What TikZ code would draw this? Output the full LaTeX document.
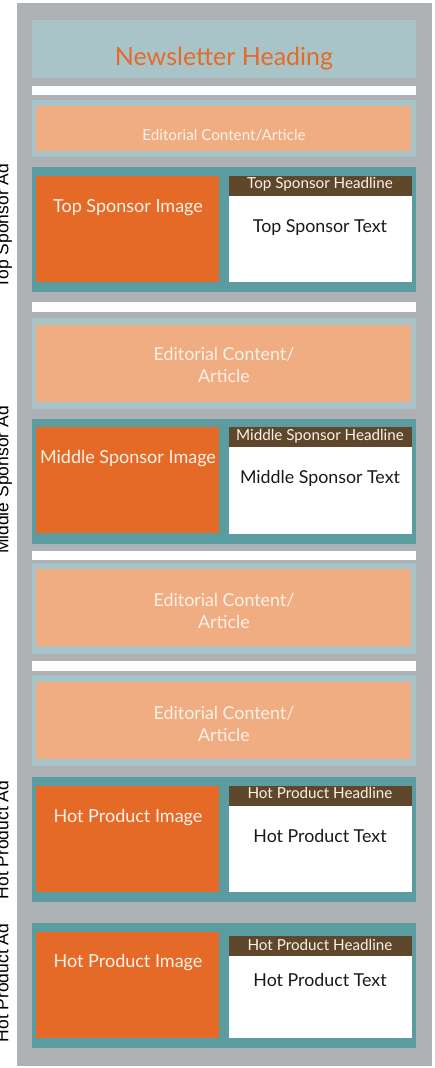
\documentclass[tikz,border=0pt]{standalone}
\usepackage{fontspec}
\setmainfont{Lato}
\newfontfamily\sidefont{Liberation Sans}
\definecolor{panelgray}{HTML}{AEB1B4}
\definecolor{paleblue}{HTML}{A9C4C8}
\definecolor{paleorange}{HTML}{F0AD82}
\definecolor{adteal}{HTML}{5B9CA1}
\definecolor{imgorange}{HTML}{E66A27}
\definecolor{headbrown}{HTML}{5E472B}
\definecolor{softwhite}{HTML}{FDF1E8}
\tikzset{
  box/.style={inner sep=0pt, outer sep=0pt, anchor=north west},
  sidelabel/.style={font=\sidefont\fontsize{17.5}{20}\selectfont, rotate=90, anchor=base},
  edtext/.style={font=\fontsize{17.8}{21.7}\selectfont, text=softwhite, align=center, anchor=base},
  imgtext/.style={font=\fontsize{18}{21}\selectfont, text=softwhite, anchor=base},
  headtext/.style={font=\fontsize{15.2}{17}\selectfont, text=softwhite, anchor=base},
  bodytext/.style={font=\fontsize{17.8}{21}\selectfont, text=black!90, anchor=base}
}
\begin{document}
\begin{tikzpicture}[x=1pt, y=-1pt]
\useasboundingbox (0,0) rectangle (434,1068);

% page
\node[box, fill=panelgray, minimum width=415, minimum height=1063] (page) at (17,3) {};

% heading
\node[box, fill=paleblue, minimum width=384, minimum height=58] (heading) at (32,20) {};
\node[font=\fontsize{25}{29}\selectfont, text=imgorange, anchor=base] (headingtxt) at (224,65) {Newsletter Heading};

\node[box, fill=white, minimum width=384, minimum height=9] (gap1) at (32,86) {};

% first article
\node[box, fill=paleblue, minimum width=384, minimum height=57] (art1) at (32,100) {};
\node[box, fill=paleorange, minimum width=375, minimum height=45] (art1in) at (36,106) {};
\node[font=\fontsize{15.2}{17}\selectfont, text=softwhite, anchor=base] (art1txt) at (224,140) {Editorial Content/Article};

% top sponsor
\node[box, fill=adteal, minimum width=384, minimum height=125] (topad) at (32,167) {};
\node[box, fill=imgorange, minimum width=183, minimum height=106] (topimg) at (36,176) {};
\node[box, fill=headbrown, minimum width=183, minimum height=20] (tophead) at (229,176) {};
\node[box, fill=white, minimum width=183, minimum height=86] (topbody) at (229,196) {};
\node[imgtext] (topimgtxt) at (128,212) {Top Sponsor Image};
\node[headtext] (topheadtxt) at (320,188) {Top Sponsor Headline};
\node[bodytext] (topbodytxt) at (320,232) {Top Sponsor Text};
\node[sidelabel] (topside) at (8.5,226) {Top Sponsor Ad};

\node[box, fill=white, minimum width=384, minimum height=10] (gap2) at (32,302) {};

% second article
\node[box, fill=paleblue, minimum width=384, minimum height=91] (art2) at (32,318) {};
\node[box, fill=paleorange, minimum width=375, minimum height=77] (art2in) at (36,325) {};
\node[edtext] (art2txt) at (224,382) {Editorial Content/\\Article};

% middle sponsor
\node[box, fill=adteal, minimum width=384, minimum height=125] (midad) at (32,419) {};
\node[box, fill=imgorange, minimum width=183, minimum height=106] (midimg) at (36,427) {};
\node[box, fill=headbrown, minimum width=183, minimum height=20] (midhead) at (229,427) {};
\node[box, fill=white, minimum width=183, minimum height=87] (midbody) at (229,447) {};
\node[imgtext] (midimgtxt) at (128,463) {Middle Sponsor Image};
\node[headtext] (midheadtxt) at (320,440) {Middle Sponsor Headline};
\node[bodytext] (midbodytxt) at (320,483) {Middle Sponsor Text};
\node[sidelabel] (midside) at (8.5,480) {Middle Sponsor Ad};

\node[box, fill=white, minimum width=384, minimum height=9] (gap3) at (32,551) {};

% third article
\node[box, fill=paleblue, minimum width=384, minimum height=91] (art3) at (32,563) {};
\node[box, fill=paleorange, minimum width=375, minimum height=77] (art3in) at (36,569) {};
\node[edtext] (art3txt) at (224,628.5) {Editorial Content/\\Article};

\node[box, fill=white, minimum width=384, minimum height=10] (gap4) at (32,661) {};

% fourth article
\node[box, fill=paleblue, minimum width=384, minimum height=91] (art4) at (32,675) {};
\node[box, fill=paleorange, minimum width=375, minimum height=77] (art4in) at (36,682) {};
\node[edtext] (art4txt) at (224,741) {Editorial Content/\\Article};

% hot product, first
\node[box, fill=adteal, minimum width=384, minimum height=125] (hotad) at (32,777) {};
\node[box, fill=imgorange, minimum width=183, minimum height=106] (hotimg) at (36,786) {};
\node[box, fill=headbrown, minimum width=183, minimum height=20] (hothead) at (229,786) {};
\node[box, fill=white, minimum width=183, minimum height=86] (hotbody) at (229,806) {};
\node[imgtext] (hotimgtxt) at (128,822) {Hot Product Image};
\node[headtext] (hotheadtxt) at (320,798) {Hot Product Headline};
\node[bodytext] (hotbodytxt) at (320,842) {Hot Product Text};
\node[sidelabel] (hotside) at (8.5,840) {Hot Product Ad};

% hot product, second
\node[box, fill=adteal, minimum width=384, minimum height=125] (hotadb) at (32,923) {};
\node[box, fill=imgorange, minimum width=183, minimum height=106] (hotimgb) at (36,932) {};
\node[box, fill=headbrown, minimum width=183, minimum height=20] (hotheadb) at (229,936) {};
\node[box, fill=white, minimum width=183, minimum height=82] (hotbodyb) at (229,956) {};
\node[imgtext] (hotimgtxtb) at (128,967.5) {Hot Product Image};
\node[headtext] (hotheadtxtb) at (320,950) {Hot Product Headline};
\node[bodytext] (hotbodytxtb) at (320,986.5) {Hot Product Text};
\node[sidelabel] (hotsideb) at (8.5,983) {Hot Product Ad};
\end{tikzpicture}
\end{document}
